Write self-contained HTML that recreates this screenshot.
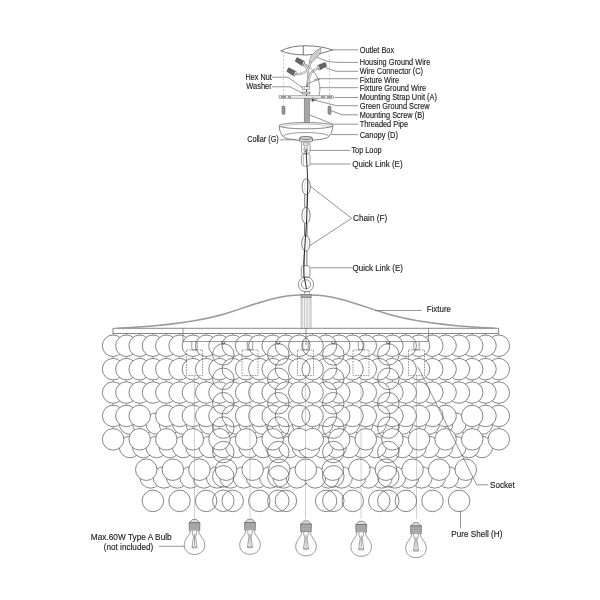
<!DOCTYPE html>
<html><head><meta charset="utf-8"><style>
html,body{margin:0;padding:0;background:#fff;width:600px;height:600px;overflow:hidden}
svg{display:block}
text{font-family:"Liberation Sans",sans-serif;fill:#1a1a1a;stroke:#1a1a1a;stroke-width:0.18px}
svg{will-change:transform}
</style></head><body>
<svg width="600" height="600" viewBox="0 0 600 600">
<g id="chandelier">
<circle cx="130.00" cy="447.00" r="10.75" fill="#fff" stroke="#5e5e5e" stroke-width="0.75" />
<circle cx="482.00" cy="447.00" r="10.75" fill="#fff" stroke="#5e5e5e" stroke-width="0.75" />
<circle cx="130.00" cy="423.60" r="10.75" fill="#fff" stroke="#5e5e5e" stroke-width="0.75" />
<circle cx="482.00" cy="423.60" r="10.75" fill="#fff" stroke="#5e5e5e" stroke-width="0.75" />
<circle cx="143.30" cy="447.00" r="10.75" fill="#fff" stroke="#5e5e5e" stroke-width="0.75" />
<circle cx="468.70" cy="447.00" r="10.75" fill="#fff" stroke="#5e5e5e" stroke-width="0.75" />
<circle cx="143.30" cy="423.60" r="10.75" fill="#fff" stroke="#5e5e5e" stroke-width="0.75" />
<circle cx="468.70" cy="423.60" r="10.75" fill="#fff" stroke="#5e5e5e" stroke-width="0.75" />
<circle cx="150.60" cy="477.40" r="10.75" fill="#fff" stroke="#5e5e5e" stroke-width="0.75" />
<circle cx="461.40" cy="477.40" r="10.75" fill="#fff" stroke="#5e5e5e" stroke-width="0.75" />
<circle cx="156.60" cy="447.00" r="10.75" fill="#fff" stroke="#5e5e5e" stroke-width="0.75" />
<circle cx="455.40" cy="447.00" r="10.75" fill="#fff" stroke="#5e5e5e" stroke-width="0.75" />
<circle cx="156.60" cy="423.60" r="10.75" fill="#fff" stroke="#5e5e5e" stroke-width="0.75" />
<circle cx="455.40" cy="423.60" r="10.75" fill="#fff" stroke="#5e5e5e" stroke-width="0.75" />
<circle cx="448.10" cy="477.40" r="10.75" fill="#fff" stroke="#5e5e5e" stroke-width="0.75" />
<circle cx="163.90" cy="477.40" r="10.75" fill="#fff" stroke="#5e5e5e" stroke-width="0.75" />
<circle cx="169.90" cy="447.00" r="10.75" fill="#fff" stroke="#5e5e5e" stroke-width="0.75" />
<circle cx="442.10" cy="447.00" r="10.75" fill="#fff" stroke="#5e5e5e" stroke-width="0.75" />
<circle cx="169.90" cy="423.60" r="10.75" fill="#fff" stroke="#5e5e5e" stroke-width="0.75" />
<circle cx="442.10" cy="423.60" r="10.75" fill="#fff" stroke="#5e5e5e" stroke-width="0.75" />
<circle cx="177.20" cy="477.40" r="10.75" fill="#fff" stroke="#5e5e5e" stroke-width="0.75" />
<circle cx="434.80" cy="477.40" r="10.75" fill="#fff" stroke="#5e5e5e" stroke-width="0.75" />
<circle cx="183.20" cy="447.00" r="10.75" fill="#fff" stroke="#5e5e5e" stroke-width="0.75" />
<circle cx="428.80" cy="447.00" r="10.75" fill="#fff" stroke="#5e5e5e" stroke-width="0.75" />
<circle cx="183.20" cy="423.60" r="10.75" fill="#fff" stroke="#5e5e5e" stroke-width="0.75" />
<circle cx="428.80" cy="423.60" r="10.75" fill="#fff" stroke="#5e5e5e" stroke-width="0.75" />
<circle cx="421.50" cy="477.40" r="10.75" fill="#fff" stroke="#5e5e5e" stroke-width="0.75" />
<circle cx="190.50" cy="477.40" r="10.75" fill="#fff" stroke="#5e5e5e" stroke-width="0.75" />
<circle cx="196.50" cy="447.00" r="10.75" fill="#fff" stroke="#5e5e5e" stroke-width="0.75" />
<circle cx="415.50" cy="447.00" r="10.75" fill="#fff" stroke="#5e5e5e" stroke-width="0.75" />
<circle cx="196.50" cy="423.60" r="10.75" fill="#fff" stroke="#5e5e5e" stroke-width="0.75" />
<circle cx="415.50" cy="423.60" r="10.75" fill="#fff" stroke="#5e5e5e" stroke-width="0.75" />
<circle cx="203.80" cy="477.40" r="10.75" fill="#fff" stroke="#5e5e5e" stroke-width="0.75" />
<circle cx="408.20" cy="477.40" r="10.75" fill="#fff" stroke="#5e5e5e" stroke-width="0.75" />
<circle cx="209.80" cy="447.00" r="10.75" fill="#fff" stroke="#5e5e5e" stroke-width="0.75" />
<circle cx="402.20" cy="447.00" r="10.75" fill="#fff" stroke="#5e5e5e" stroke-width="0.75" />
<circle cx="209.80" cy="423.60" r="10.75" fill="#fff" stroke="#5e5e5e" stroke-width="0.75" />
<circle cx="402.20" cy="423.60" r="10.75" fill="#fff" stroke="#5e5e5e" stroke-width="0.75" />
<circle cx="394.90" cy="477.40" r="10.75" fill="#fff" stroke="#5e5e5e" stroke-width="0.75" />
<circle cx="217.10" cy="477.40" r="10.75" fill="#fff" stroke="#5e5e5e" stroke-width="0.75" />
<circle cx="223.10" cy="447.00" r="10.75" fill="#fff" stroke="#5e5e5e" stroke-width="0.75" />
<circle cx="388.90" cy="447.00" r="10.75" fill="#fff" stroke="#5e5e5e" stroke-width="0.75" />
<circle cx="223.10" cy="423.60" r="10.75" fill="#fff" stroke="#5e5e5e" stroke-width="0.75" />
<circle cx="388.90" cy="423.60" r="10.75" fill="#fff" stroke="#5e5e5e" stroke-width="0.75" />
<circle cx="230.40" cy="477.40" r="10.75" fill="#fff" stroke="#5e5e5e" stroke-width="0.75" />
<circle cx="381.60" cy="477.40" r="10.75" fill="#fff" stroke="#5e5e5e" stroke-width="0.75" />
<circle cx="236.40" cy="447.00" r="10.75" fill="#fff" stroke="#5e5e5e" stroke-width="0.75" />
<circle cx="375.60" cy="447.00" r="10.75" fill="#fff" stroke="#5e5e5e" stroke-width="0.75" />
<circle cx="236.40" cy="423.60" r="10.75" fill="#fff" stroke="#5e5e5e" stroke-width="0.75" />
<circle cx="375.60" cy="423.60" r="10.75" fill="#fff" stroke="#5e5e5e" stroke-width="0.75" />
<circle cx="368.30" cy="477.40" r="10.75" fill="#fff" stroke="#5e5e5e" stroke-width="0.75" />
<circle cx="243.70" cy="477.40" r="10.75" fill="#fff" stroke="#5e5e5e" stroke-width="0.75" />
<circle cx="249.70" cy="447.00" r="10.75" fill="#fff" stroke="#5e5e5e" stroke-width="0.75" />
<circle cx="362.30" cy="447.00" r="10.75" fill="#fff" stroke="#5e5e5e" stroke-width="0.75" />
<circle cx="249.70" cy="423.60" r="10.75" fill="#fff" stroke="#5e5e5e" stroke-width="0.75" />
<circle cx="362.30" cy="423.60" r="10.75" fill="#fff" stroke="#5e5e5e" stroke-width="0.75" />
<circle cx="257.00" cy="477.40" r="10.75" fill="#fff" stroke="#5e5e5e" stroke-width="0.75" />
<circle cx="355.00" cy="477.40" r="10.75" fill="#fff" stroke="#5e5e5e" stroke-width="0.75" />
<circle cx="263.00" cy="447.00" r="10.75" fill="#fff" stroke="#5e5e5e" stroke-width="0.75" />
<circle cx="349.00" cy="447.00" r="10.75" fill="#fff" stroke="#5e5e5e" stroke-width="0.75" />
<circle cx="263.00" cy="423.60" r="10.75" fill="#fff" stroke="#5e5e5e" stroke-width="0.75" />
<circle cx="349.00" cy="423.60" r="10.75" fill="#fff" stroke="#5e5e5e" stroke-width="0.75" />
<circle cx="270.30" cy="477.40" r="10.75" fill="#fff" stroke="#5e5e5e" stroke-width="0.75" />
<circle cx="341.70" cy="477.40" r="10.75" fill="#fff" stroke="#5e5e5e" stroke-width="0.75" />
<circle cx="276.30" cy="447.00" r="10.75" fill="#fff" stroke="#5e5e5e" stroke-width="0.75" />
<circle cx="335.70" cy="447.00" r="10.75" fill="#fff" stroke="#5e5e5e" stroke-width="0.75" />
<circle cx="276.30" cy="423.60" r="10.75" fill="#fff" stroke="#5e5e5e" stroke-width="0.75" />
<circle cx="335.70" cy="423.60" r="10.75" fill="#fff" stroke="#5e5e5e" stroke-width="0.75" />
<circle cx="283.60" cy="477.40" r="10.75" fill="#fff" stroke="#5e5e5e" stroke-width="0.75" />
<circle cx="328.40" cy="477.40" r="10.75" fill="#fff" stroke="#5e5e5e" stroke-width="0.75" />
<circle cx="289.60" cy="447.00" r="10.75" fill="#fff" stroke="#5e5e5e" stroke-width="0.75" />
<circle cx="322.40" cy="447.00" r="10.75" fill="#fff" stroke="#5e5e5e" stroke-width="0.75" />
<circle cx="289.60" cy="423.60" r="10.75" fill="#fff" stroke="#5e5e5e" stroke-width="0.75" />
<circle cx="322.40" cy="423.60" r="10.75" fill="#fff" stroke="#5e5e5e" stroke-width="0.75" />
<circle cx="296.90" cy="477.40" r="10.75" fill="#fff" stroke="#5e5e5e" stroke-width="0.75" />
<circle cx="315.10" cy="477.40" r="10.75" fill="#fff" stroke="#5e5e5e" stroke-width="0.75" />
<circle cx="302.90" cy="447.00" r="10.75" fill="#fff" stroke="#5e5e5e" stroke-width="0.75" />
<circle cx="309.10" cy="447.00" r="10.75" fill="#fff" stroke="#5e5e5e" stroke-width="0.75" />
<circle cx="302.90" cy="423.60" r="10.75" fill="#fff" stroke="#5e5e5e" stroke-width="0.75" />
<circle cx="309.10" cy="423.60" r="10.75" fill="#fff" stroke="#5e5e5e" stroke-width="0.75" />
<circle cx="459.10" cy="500.90" r="10.75" fill="#fff" stroke="#5e5e5e" stroke-width="0.75" />
<circle cx="152.90" cy="500.90" r="10.75" fill="#fff" stroke="#5e5e5e" stroke-width="0.75" />
<circle cx="179.50" cy="500.90" r="10.75" fill="#fff" stroke="#5e5e5e" stroke-width="0.75" />
<circle cx="432.50" cy="500.90" r="10.75" fill="#fff" stroke="#5e5e5e" stroke-width="0.75" />
<circle cx="206.10" cy="500.90" r="10.75" fill="#fff" stroke="#5e5e5e" stroke-width="0.75" />
<circle cx="405.90" cy="500.90" r="10.75" fill="#fff" stroke="#5e5e5e" stroke-width="0.75" />
<circle cx="232.70" cy="500.90" r="10.75" fill="#fff" stroke="#5e5e5e" stroke-width="0.75" />
<circle cx="379.30" cy="500.90" r="10.75" fill="#fff" stroke="#5e5e5e" stroke-width="0.75" />
<circle cx="259.30" cy="500.90" r="10.75" fill="#fff" stroke="#5e5e5e" stroke-width="0.75" />
<circle cx="352.70" cy="500.90" r="10.75" fill="#fff" stroke="#5e5e5e" stroke-width="0.75" />
<circle cx="285.90" cy="500.90" r="10.75" fill="#fff" stroke="#5e5e5e" stroke-width="0.75" />
<circle cx="326.10" cy="500.90" r="10.75" fill="#fff" stroke="#5e5e5e" stroke-width="0.75" />
<circle cx="146.25" cy="469.70" r="10.75" fill="#fff" stroke="#5e5e5e" stroke-width="0.75" />
<circle cx="465.75" cy="469.70" r="10.75" fill="#fff" stroke="#5e5e5e" stroke-width="0.75" />
<circle cx="172.85" cy="469.70" r="10.75" fill="#fff" stroke="#5e5e5e" stroke-width="0.75" />
<circle cx="439.15" cy="469.70" r="10.75" fill="#fff" stroke="#5e5e5e" stroke-width="0.75" />
<circle cx="199.45" cy="469.70" r="10.75" fill="#fff" stroke="#5e5e5e" stroke-width="0.75" />
<circle cx="412.55" cy="469.70" r="10.75" fill="#fff" stroke="#5e5e5e" stroke-width="0.75" />
<circle cx="385.95" cy="469.70" r="10.75" fill="#fff" stroke="#5e5e5e" stroke-width="0.75" />
<circle cx="226.05" cy="469.70" r="10.75" fill="#fff" stroke="#5e5e5e" stroke-width="0.75" />
<circle cx="252.65" cy="469.70" r="10.75" fill="#fff" stroke="#5e5e5e" stroke-width="0.75" />
<circle cx="359.35" cy="469.70" r="10.75" fill="#fff" stroke="#5e5e5e" stroke-width="0.75" />
<circle cx="279.25" cy="469.70" r="10.75" fill="#fff" stroke="#5e5e5e" stroke-width="0.75" />
<circle cx="332.75" cy="469.70" r="10.75" fill="#fff" stroke="#5e5e5e" stroke-width="0.75" />
<circle cx="305.85" cy="469.70" r="10.75" fill="#fff" stroke="#5e5e5e" stroke-width="0.75" />
<circle cx="113.10" cy="345.75" r="10.75" fill="#fff" stroke="#5e5e5e" stroke-width="0.75" />
<circle cx="113.10" cy="369.15" r="10.75" fill="#fff" stroke="#5e5e5e" stroke-width="0.75" />
<circle cx="113.10" cy="392.55" r="10.75" fill="#fff" stroke="#5e5e5e" stroke-width="0.75" />
<circle cx="113.10" cy="415.95" r="10.75" fill="#fff" stroke="#5e5e5e" stroke-width="0.75" />
<circle cx="113.10" cy="439.35" r="10.75" fill="#fff" stroke="#5e5e5e" stroke-width="0.75" />
<circle cx="498.80" cy="345.75" r="10.75" fill="#fff" stroke="#5e5e5e" stroke-width="0.75" />
<circle cx="498.80" cy="369.15" r="10.75" fill="#fff" stroke="#5e5e5e" stroke-width="0.75" />
<circle cx="498.80" cy="392.55" r="10.75" fill="#fff" stroke="#5e5e5e" stroke-width="0.75" />
<circle cx="498.80" cy="415.95" r="10.75" fill="#fff" stroke="#5e5e5e" stroke-width="0.75" />
<circle cx="498.80" cy="439.35" r="10.75" fill="#fff" stroke="#5e5e5e" stroke-width="0.75" />
<circle cx="126.40" cy="345.75" r="10.75" fill="#fff" stroke="#5e5e5e" stroke-width="0.75" />
<circle cx="126.40" cy="369.15" r="10.75" fill="#fff" stroke="#5e5e5e" stroke-width="0.75" />
<circle cx="126.40" cy="392.55" r="10.75" fill="#fff" stroke="#5e5e5e" stroke-width="0.75" />
<circle cx="126.40" cy="415.95" r="10.75" fill="#fff" stroke="#5e5e5e" stroke-width="0.75" />
<circle cx="485.50" cy="345.75" r="10.75" fill="#fff" stroke="#5e5e5e" stroke-width="0.75" />
<circle cx="485.50" cy="369.15" r="10.75" fill="#fff" stroke="#5e5e5e" stroke-width="0.75" />
<circle cx="485.50" cy="392.55" r="10.75" fill="#fff" stroke="#5e5e5e" stroke-width="0.75" />
<circle cx="485.50" cy="415.95" r="10.75" fill="#fff" stroke="#5e5e5e" stroke-width="0.75" />
<circle cx="139.70" cy="345.75" r="10.75" fill="#fff" stroke="#5e5e5e" stroke-width="0.75" />
<circle cx="139.70" cy="369.15" r="10.75" fill="#fff" stroke="#5e5e5e" stroke-width="0.75" />
<circle cx="139.70" cy="392.55" r="10.75" fill="#fff" stroke="#5e5e5e" stroke-width="0.75" />
<circle cx="139.70" cy="415.95" r="10.75" fill="#fff" stroke="#5e5e5e" stroke-width="0.75" />
<circle cx="139.70" cy="439.35" r="10.75" fill="#fff" stroke="#5e5e5e" stroke-width="0.75" />
<circle cx="472.20" cy="345.75" r="10.75" fill="#fff" stroke="#5e5e5e" stroke-width="0.75" />
<circle cx="472.20" cy="369.15" r="10.75" fill="#fff" stroke="#5e5e5e" stroke-width="0.75" />
<circle cx="472.20" cy="392.55" r="10.75" fill="#fff" stroke="#5e5e5e" stroke-width="0.75" />
<circle cx="472.20" cy="415.95" r="10.75" fill="#fff" stroke="#5e5e5e" stroke-width="0.75" />
<circle cx="472.20" cy="439.35" r="10.75" fill="#fff" stroke="#5e5e5e" stroke-width="0.75" />
<circle cx="153.00" cy="345.75" r="10.75" fill="#fff" stroke="#5e5e5e" stroke-width="0.75" />
<circle cx="153.00" cy="369.15" r="10.75" fill="#fff" stroke="#5e5e5e" stroke-width="0.75" />
<circle cx="153.00" cy="392.55" r="10.75" fill="#fff" stroke="#5e5e5e" stroke-width="0.75" />
<circle cx="458.90" cy="345.75" r="10.75" fill="#fff" stroke="#5e5e5e" stroke-width="0.75" />
<circle cx="458.90" cy="369.15" r="10.75" fill="#fff" stroke="#5e5e5e" stroke-width="0.75" />
<circle cx="458.90" cy="392.55" r="10.75" fill="#fff" stroke="#5e5e5e" stroke-width="0.75" />
<circle cx="166.30" cy="345.75" r="10.75" fill="#fff" stroke="#5e5e5e" stroke-width="0.75" />
<circle cx="166.30" cy="369.15" r="10.75" fill="#fff" stroke="#5e5e5e" stroke-width="0.75" />
<circle cx="166.30" cy="392.55" r="10.75" fill="#fff" stroke="#5e5e5e" stroke-width="0.75" />
<circle cx="166.30" cy="415.95" r="10.75" fill="#fff" stroke="#5e5e5e" stroke-width="0.75" />
<circle cx="166.30" cy="439.35" r="10.75" fill="#fff" stroke="#5e5e5e" stroke-width="0.75" />
<circle cx="445.60" cy="345.75" r="10.75" fill="#fff" stroke="#5e5e5e" stroke-width="0.75" />
<circle cx="445.60" cy="369.15" r="10.75" fill="#fff" stroke="#5e5e5e" stroke-width="0.75" />
<circle cx="445.60" cy="392.55" r="10.75" fill="#fff" stroke="#5e5e5e" stroke-width="0.75" />
<circle cx="445.60" cy="415.95" r="10.75" fill="#fff" stroke="#5e5e5e" stroke-width="0.75" />
<circle cx="445.60" cy="439.35" r="10.75" fill="#fff" stroke="#5e5e5e" stroke-width="0.75" />
<circle cx="179.60" cy="345.75" r="10.75" fill="#fff" stroke="#5e5e5e" stroke-width="0.75" />
<circle cx="179.60" cy="369.15" r="10.75" fill="#fff" stroke="#5e5e5e" stroke-width="0.75" />
<circle cx="179.60" cy="392.55" r="10.75" fill="#fff" stroke="#5e5e5e" stroke-width="0.75" />
<circle cx="179.60" cy="415.95" r="10.75" fill="#fff" stroke="#5e5e5e" stroke-width="0.75" />
<circle cx="432.30" cy="345.75" r="10.75" fill="#fff" stroke="#5e5e5e" stroke-width="0.75" />
<circle cx="432.30" cy="369.15" r="10.75" fill="#fff" stroke="#5e5e5e" stroke-width="0.75" />
<circle cx="432.30" cy="392.55" r="10.75" fill="#fff" stroke="#5e5e5e" stroke-width="0.75" />
<circle cx="432.30" cy="415.95" r="10.75" fill="#fff" stroke="#5e5e5e" stroke-width="0.75" />
<circle cx="192.90" cy="345.75" r="10.75" fill="#fff" stroke="#5e5e5e" stroke-width="0.75" />
<circle cx="192.90" cy="369.15" r="10.75" fill="#fff" stroke="#5e5e5e" stroke-width="0.75" />
<circle cx="192.90" cy="392.55" r="10.75" fill="#fff" stroke="#5e5e5e" stroke-width="0.75" />
<circle cx="192.90" cy="415.95" r="10.75" fill="#fff" stroke="#5e5e5e" stroke-width="0.75" />
<circle cx="192.90" cy="439.35" r="10.75" fill="#fff" stroke="#5e5e5e" stroke-width="0.75" />
<circle cx="419.00" cy="345.75" r="10.75" fill="#fff" stroke="#5e5e5e" stroke-width="0.75" />
<circle cx="419.00" cy="369.15" r="10.75" fill="#fff" stroke="#5e5e5e" stroke-width="0.75" />
<circle cx="419.00" cy="392.55" r="10.75" fill="#fff" stroke="#5e5e5e" stroke-width="0.75" />
<circle cx="419.00" cy="415.95" r="10.75" fill="#fff" stroke="#5e5e5e" stroke-width="0.75" />
<circle cx="419.00" cy="439.35" r="10.75" fill="#fff" stroke="#5e5e5e" stroke-width="0.75" />
<circle cx="206.20" cy="345.75" r="10.75" fill="#fff" stroke="#5e5e5e" stroke-width="0.75" />
<circle cx="206.20" cy="369.15" r="10.75" fill="#fff" stroke="#5e5e5e" stroke-width="0.75" />
<circle cx="206.20" cy="392.55" r="10.75" fill="#fff" stroke="#5e5e5e" stroke-width="0.75" />
<circle cx="206.20" cy="415.95" r="10.75" fill="#fff" stroke="#5e5e5e" stroke-width="0.75" />
<circle cx="405.70" cy="345.75" r="10.75" fill="#fff" stroke="#5e5e5e" stroke-width="0.75" />
<circle cx="405.70" cy="369.15" r="10.75" fill="#fff" stroke="#5e5e5e" stroke-width="0.75" />
<circle cx="405.70" cy="392.55" r="10.75" fill="#fff" stroke="#5e5e5e" stroke-width="0.75" />
<circle cx="405.70" cy="415.95" r="10.75" fill="#fff" stroke="#5e5e5e" stroke-width="0.75" />
<circle cx="219.50" cy="345.75" r="10.75" fill="#fff" stroke="#5e5e5e" stroke-width="0.75" />
<circle cx="219.50" cy="369.15" r="10.75" fill="#fff" stroke="#5e5e5e" stroke-width="0.75" />
<circle cx="219.50" cy="392.55" r="10.75" fill="#fff" stroke="#5e5e5e" stroke-width="0.75" />
<circle cx="219.50" cy="415.95" r="10.75" fill="#fff" stroke="#5e5e5e" stroke-width="0.75" />
<circle cx="219.50" cy="439.35" r="10.75" fill="#fff" stroke="#5e5e5e" stroke-width="0.75" />
<circle cx="392.40" cy="345.75" r="10.75" fill="#fff" stroke="#5e5e5e" stroke-width="0.75" />
<circle cx="392.40" cy="369.15" r="10.75" fill="#fff" stroke="#5e5e5e" stroke-width="0.75" />
<circle cx="392.40" cy="392.55" r="10.75" fill="#fff" stroke="#5e5e5e" stroke-width="0.75" />
<circle cx="392.40" cy="415.95" r="10.75" fill="#fff" stroke="#5e5e5e" stroke-width="0.75" />
<circle cx="392.40" cy="439.35" r="10.75" fill="#fff" stroke="#5e5e5e" stroke-width="0.75" />
<circle cx="232.80" cy="345.75" r="10.75" fill="#fff" stroke="#5e5e5e" stroke-width="0.75" />
<circle cx="232.80" cy="369.15" r="10.75" fill="#fff" stroke="#5e5e5e" stroke-width="0.75" />
<circle cx="232.80" cy="392.55" r="10.75" fill="#fff" stroke="#5e5e5e" stroke-width="0.75" />
<circle cx="232.80" cy="415.95" r="10.75" fill="#fff" stroke="#5e5e5e" stroke-width="0.75" />
<circle cx="379.10" cy="345.75" r="10.75" fill="#fff" stroke="#5e5e5e" stroke-width="0.75" />
<circle cx="379.10" cy="369.15" r="10.75" fill="#fff" stroke="#5e5e5e" stroke-width="0.75" />
<circle cx="379.10" cy="392.55" r="10.75" fill="#fff" stroke="#5e5e5e" stroke-width="0.75" />
<circle cx="379.10" cy="415.95" r="10.75" fill="#fff" stroke="#5e5e5e" stroke-width="0.75" />
<circle cx="246.10" cy="345.75" r="10.75" fill="#fff" stroke="#5e5e5e" stroke-width="0.75" />
<circle cx="246.10" cy="369.15" r="10.75" fill="#fff" stroke="#5e5e5e" stroke-width="0.75" />
<circle cx="246.10" cy="392.55" r="10.75" fill="#fff" stroke="#5e5e5e" stroke-width="0.75" />
<circle cx="246.10" cy="415.95" r="10.75" fill="#fff" stroke="#5e5e5e" stroke-width="0.75" />
<circle cx="246.10" cy="439.35" r="10.75" fill="#fff" stroke="#5e5e5e" stroke-width="0.75" />
<circle cx="365.80" cy="345.75" r="10.75" fill="#fff" stroke="#5e5e5e" stroke-width="0.75" />
<circle cx="365.80" cy="369.15" r="10.75" fill="#fff" stroke="#5e5e5e" stroke-width="0.75" />
<circle cx="365.80" cy="392.55" r="10.75" fill="#fff" stroke="#5e5e5e" stroke-width="0.75" />
<circle cx="365.80" cy="415.95" r="10.75" fill="#fff" stroke="#5e5e5e" stroke-width="0.75" />
<circle cx="365.80" cy="439.35" r="10.75" fill="#fff" stroke="#5e5e5e" stroke-width="0.75" />
<circle cx="259.40" cy="345.75" r="10.75" fill="#fff" stroke="#5e5e5e" stroke-width="0.75" />
<circle cx="259.40" cy="369.15" r="10.75" fill="#fff" stroke="#5e5e5e" stroke-width="0.75" />
<circle cx="259.40" cy="392.55" r="10.75" fill="#fff" stroke="#5e5e5e" stroke-width="0.75" />
<circle cx="259.40" cy="415.95" r="10.75" fill="#fff" stroke="#5e5e5e" stroke-width="0.75" />
<circle cx="352.50" cy="345.75" r="10.75" fill="#fff" stroke="#5e5e5e" stroke-width="0.75" />
<circle cx="352.50" cy="369.15" r="10.75" fill="#fff" stroke="#5e5e5e" stroke-width="0.75" />
<circle cx="352.50" cy="392.55" r="10.75" fill="#fff" stroke="#5e5e5e" stroke-width="0.75" />
<circle cx="352.50" cy="415.95" r="10.75" fill="#fff" stroke="#5e5e5e" stroke-width="0.75" />
<circle cx="272.70" cy="345.75" r="10.75" fill="#fff" stroke="#5e5e5e" stroke-width="0.75" />
<circle cx="272.70" cy="369.15" r="10.75" fill="#fff" stroke="#5e5e5e" stroke-width="0.75" />
<circle cx="272.70" cy="392.55" r="10.75" fill="#fff" stroke="#5e5e5e" stroke-width="0.75" />
<circle cx="272.70" cy="415.95" r="10.75" fill="#fff" stroke="#5e5e5e" stroke-width="0.75" />
<circle cx="272.70" cy="439.35" r="10.75" fill="#fff" stroke="#5e5e5e" stroke-width="0.75" />
<circle cx="339.20" cy="345.75" r="10.75" fill="#fff" stroke="#5e5e5e" stroke-width="0.75" />
<circle cx="339.20" cy="369.15" r="10.75" fill="#fff" stroke="#5e5e5e" stroke-width="0.75" />
<circle cx="339.20" cy="392.55" r="10.75" fill="#fff" stroke="#5e5e5e" stroke-width="0.75" />
<circle cx="339.20" cy="415.95" r="10.75" fill="#fff" stroke="#5e5e5e" stroke-width="0.75" />
<circle cx="339.20" cy="439.35" r="10.75" fill="#fff" stroke="#5e5e5e" stroke-width="0.75" />
<circle cx="286.00" cy="345.75" r="10.75" fill="#fff" stroke="#5e5e5e" stroke-width="0.75" />
<circle cx="286.00" cy="369.15" r="10.75" fill="#fff" stroke="#5e5e5e" stroke-width="0.75" />
<circle cx="286.00" cy="392.55" r="10.75" fill="#fff" stroke="#5e5e5e" stroke-width="0.75" />
<circle cx="286.00" cy="415.95" r="10.75" fill="#fff" stroke="#5e5e5e" stroke-width="0.75" />
<circle cx="325.90" cy="345.75" r="10.75" fill="#fff" stroke="#5e5e5e" stroke-width="0.75" />
<circle cx="325.90" cy="369.15" r="10.75" fill="#fff" stroke="#5e5e5e" stroke-width="0.75" />
<circle cx="325.90" cy="392.55" r="10.75" fill="#fff" stroke="#5e5e5e" stroke-width="0.75" />
<circle cx="325.90" cy="415.95" r="10.75" fill="#fff" stroke="#5e5e5e" stroke-width="0.75" />
<circle cx="299.30" cy="345.75" r="10.75" fill="#fff" stroke="none" stroke-width="0.75" />
<circle cx="299.30" cy="369.15" r="10.75" fill="#fff" stroke="none" stroke-width="0.75" />
<circle cx="299.30" cy="392.55" r="10.75" fill="#fff" stroke="none" stroke-width="0.75" />
<circle cx="299.30" cy="415.95" r="10.75" fill="#fff" stroke="none" stroke-width="0.75" />
<circle cx="299.30" cy="439.35" r="10.75" fill="#fff" stroke="#5e5e5e" stroke-width="0.75" />
<circle cx="312.60" cy="345.75" r="10.75" fill="#fff" stroke="none" stroke-width="0.75" />
<circle cx="312.60" cy="369.15" r="10.75" fill="#fff" stroke="none" stroke-width="0.75" />
<circle cx="312.60" cy="392.55" r="10.75" fill="#fff" stroke="none" stroke-width="0.75" />
<circle cx="312.60" cy="415.95" r="10.75" fill="#fff" stroke="none" stroke-width="0.75" />
<circle cx="312.60" cy="439.35" r="10.75" fill="#fff" stroke="#5e5e5e" stroke-width="0.75" />
<circle cx="299.30" cy="345.75" r="10.75" fill="none" stroke="#5e5e5e" stroke-width="0.75" />
<circle cx="299.30" cy="369.15" r="10.75" fill="none" stroke="#5e5e5e" stroke-width="0.75" />
<circle cx="299.30" cy="392.55" r="10.75" fill="none" stroke="#5e5e5e" stroke-width="0.75" />
<circle cx="299.30" cy="415.95" r="10.75" fill="none" stroke="#5e5e5e" stroke-width="0.75" />
<circle cx="312.60" cy="345.75" r="10.75" fill="none" stroke="#5e5e5e" stroke-width="0.75" />
<circle cx="312.60" cy="369.15" r="10.75" fill="none" stroke="#5e5e5e" stroke-width="0.75" />
<circle cx="312.60" cy="392.55" r="10.75" fill="none" stroke="#5e5e5e" stroke-width="0.75" />
<circle cx="312.60" cy="415.95" r="10.75" fill="none" stroke="#5e5e5e" stroke-width="0.75" />
<circle cx="299.30" cy="439.35" r="10.75" fill="#fff" stroke="#5e5e5e" stroke-width="0.75" />
<circle cx="312.60" cy="439.35" r="10.75" fill="#fff" stroke="#5e5e5e" stroke-width="0.75" />
<circle cx="299.30" cy="439.35" r="10.30" fill="#fff" stroke="none" stroke-width="0.75" />
<circle cx="312.60" cy="439.35" r="10.30" fill="#fff" stroke="none" stroke-width="0.75" />

<g fill="none" stroke="#555" stroke-width="0.7">
 <path d="M113 333.5 V328.3 H498.6 V333.5 Z"/>
 <path d="M183 328.3 V341.5 H428.6 V328.3" stroke="#555" stroke-width="0.6"/>
 <path d="M117 328.3 C 160 326.3, 200 322.3, 230 312.3 C 260 302.3, 278 295.2, 301 294.9 L311 294.9 C 334 295.2, 352 302.3, 382 312.3 C 412 322.3, 452 326.3, 495 328.3" stroke="#9a9a9a" stroke-width="1.5"/>
 <path d="M113.10 333.5 V335 M113.10 356.50 V358.40 M113.10 379.90 V381.80 M113.10 403.30 V405.20 M113.10 426.70 V428.60 M126.40 333.5 V335 M126.40 356.50 V358.40 M126.40 379.90 V381.80 M126.40 403.30 V405.20 M139.70 333.5 V335 M139.70 356.50 V358.40 M139.70 379.90 V381.80 M139.70 403.30 V405.20 M139.70 426.70 V428.60 M153.00 333.5 V335 M153.00 356.50 V358.40 M153.00 379.90 V381.80 M166.30 333.5 V335 M166.30 356.50 V358.40 M166.30 379.90 V381.80 M166.30 403.30 V405.20 M166.30 426.70 V428.60 M179.60 333.5 V335 M179.60 356.50 V358.40 M179.60 379.90 V381.80 M179.60 403.30 V405.20 M192.90 333.5 V335 M192.90 356.50 V358.40 M192.90 379.90 V381.80 M192.90 403.30 V405.20 M192.90 426.70 V428.60 M206.20 333.5 V335 M206.20 356.50 V358.40 M206.20 379.90 V381.80 M206.20 403.30 V405.20 M219.50 333.5 V335 M219.50 356.50 V358.40 M219.50 379.90 V381.80 M219.50 403.30 V405.20 M219.50 426.70 V428.60 M232.80 333.5 V335 M232.80 356.50 V358.40 M232.80 379.90 V381.80 M232.80 403.30 V405.20 M246.10 333.5 V335 M246.10 356.50 V358.40 M246.10 379.90 V381.80 M246.10 403.30 V405.20 M246.10 426.70 V428.60 M259.40 333.5 V335 M259.40 356.50 V358.40 M259.40 379.90 V381.80 M259.40 403.30 V405.20 M272.70 333.5 V335 M272.70 356.50 V358.40 M272.70 379.90 V381.80 M272.70 403.30 V405.20 M272.70 426.70 V428.60 M286.00 333.5 V335 M286.00 356.50 V358.40 M286.00 379.90 V381.80 M286.00 403.30 V405.20 M299.30 333.5 V335 M299.30 356.50 V358.40 M299.30 379.90 V381.80 M299.30 403.30 V405.20 M299.30 426.70 V428.60 M312.60 333.5 V335 M312.60 356.50 V358.40 M312.60 379.90 V381.80 M312.60 403.30 V405.20 M312.60 426.70 V428.60 M325.90 333.5 V335 M325.90 356.50 V358.40 M325.90 379.90 V381.80 M325.90 403.30 V405.20 M339.20 333.5 V335 M339.20 356.50 V358.40 M339.20 379.90 V381.80 M339.20 403.30 V405.20 M339.20 426.70 V428.60 M352.50 333.5 V335 M352.50 356.50 V358.40 M352.50 379.90 V381.80 M352.50 403.30 V405.20 M365.80 333.5 V335 M365.80 356.50 V358.40 M365.80 379.90 V381.80 M365.80 403.30 V405.20 M365.80 426.70 V428.60 M379.10 333.5 V335 M379.10 356.50 V358.40 M379.10 379.90 V381.80 M379.10 403.30 V405.20 M392.40 333.5 V335 M392.40 356.50 V358.40 M392.40 379.90 V381.80 M392.40 403.30 V405.20 M392.40 426.70 V428.60 M405.70 333.5 V335 M405.70 356.50 V358.40 M405.70 379.90 V381.80 M405.70 403.30 V405.20 M419.00 333.5 V335 M419.00 356.50 V358.40 M419.00 379.90 V381.80 M419.00 403.30 V405.20 M419.00 426.70 V428.60 M432.30 333.5 V335 M432.30 356.50 V358.40 M432.30 379.90 V381.80 M432.30 403.30 V405.20 M445.60 333.5 V335 M445.60 356.50 V358.40 M445.60 379.90 V381.80 M445.60 403.30 V405.20 M445.60 426.70 V428.60 M458.90 333.5 V335 M458.90 356.50 V358.40 M458.90 379.90 V381.80 M472.20 333.5 V335 M472.20 356.50 V358.40 M472.20 379.90 V381.80 M472.20 403.30 V405.20 M472.20 426.70 V428.60 M485.50 333.5 V335 M485.50 356.50 V358.40 M485.50 379.90 V381.80 M485.50 403.30 V405.20 M498.80 333.5 V335 M498.80 356.50 V358.40 M498.80 379.90 V381.80 M498.80 403.30 V405.20 M498.80 426.70 V428.60" stroke="#666" stroke-width="0.6"/>
</g>
<g fill="#fff" stroke="#444" stroke-width="0.6">

</g>
<g id="stem" stroke="#666" stroke-width="0.5" fill="#fff">
 <rect x="301.1" y="294.25" width="9.9" height="33.9"/>
 <path d="M302.8 294.25 V328 M304.5 294.25 V328 M306.1 294.25 V328 M307.7 294.25 V328 M309.3 294.25 V328" fill="none" stroke="#999"/>
 <rect x="304.6" y="291.5" width="4.7" height="2.75"/>
 <rect x="301.1" y="294.25" width="9.9" height="3.5" fill="#aaa"/>
 <path d="M306 328 V345" stroke="#555" stroke-width="0.6"/>
</g>

<circle cx="223.30" cy="354.40" r="10.75" fill="none" stroke="#5e5e5e" stroke-width="0.75" />
<circle cx="223.30" cy="378.80" r="10.75" fill="none" stroke="#5e5e5e" stroke-width="0.75" />
<circle cx="223.30" cy="403.20" r="10.75" fill="none" stroke="#5e5e5e" stroke-width="0.75" />
<circle cx="223.30" cy="427.60" r="10.75" fill="none" stroke="#5e5e5e" stroke-width="0.75" />
<circle cx="223.30" cy="452.00" r="10.75" fill="none" stroke="#5e5e5e" stroke-width="0.75" />
<circle cx="223.30" cy="476.40" r="10.75" fill="none" stroke="#5e5e5e" stroke-width="0.75" />
<circle cx="223.30" cy="500.80" r="10.75" fill="none" stroke="#5e5e5e" stroke-width="0.75" />
<circle cx="278.30" cy="354.40" r="10.75" fill="none" stroke="#5e5e5e" stroke-width="0.75" />
<circle cx="278.30" cy="378.80" r="10.75" fill="none" stroke="#5e5e5e" stroke-width="0.75" />
<circle cx="278.30" cy="403.20" r="10.75" fill="none" stroke="#5e5e5e" stroke-width="0.75" />
<circle cx="278.30" cy="427.60" r="10.75" fill="none" stroke="#5e5e5e" stroke-width="0.75" />
<circle cx="278.30" cy="452.00" r="10.75" fill="none" stroke="#5e5e5e" stroke-width="0.75" />
<circle cx="278.30" cy="476.40" r="10.75" fill="none" stroke="#5e5e5e" stroke-width="0.75" />
<circle cx="278.30" cy="500.80" r="10.75" fill="none" stroke="#5e5e5e" stroke-width="0.75" />
<circle cx="333.30" cy="354.40" r="10.75" fill="none" stroke="#5e5e5e" stroke-width="0.75" />
<circle cx="333.30" cy="378.80" r="10.75" fill="none" stroke="#5e5e5e" stroke-width="0.75" />
<circle cx="333.30" cy="403.20" r="10.75" fill="none" stroke="#5e5e5e" stroke-width="0.75" />
<circle cx="333.30" cy="427.60" r="10.75" fill="none" stroke="#5e5e5e" stroke-width="0.75" />
<circle cx="333.30" cy="452.00" r="10.75" fill="none" stroke="#5e5e5e" stroke-width="0.75" />
<circle cx="333.30" cy="476.40" r="10.75" fill="none" stroke="#5e5e5e" stroke-width="0.75" />
<circle cx="333.30" cy="500.80" r="10.75" fill="none" stroke="#5e5e5e" stroke-width="0.75" />
<circle cx="388.30" cy="354.40" r="10.75" fill="none" stroke="#5e5e5e" stroke-width="0.75" />
<circle cx="388.30" cy="378.80" r="10.75" fill="none" stroke="#5e5e5e" stroke-width="0.75" />
<circle cx="388.30" cy="403.20" r="10.75" fill="none" stroke="#5e5e5e" stroke-width="0.75" />
<circle cx="388.30" cy="427.60" r="10.75" fill="none" stroke="#5e5e5e" stroke-width="0.75" />
<circle cx="388.30" cy="452.00" r="10.75" fill="none" stroke="#5e5e5e" stroke-width="0.75" />
<circle cx="388.30" cy="476.40" r="10.75" fill="none" stroke="#5e5e5e" stroke-width="0.75" />
<circle cx="388.30" cy="500.80" r="10.75" fill="none" stroke="#5e5e5e" stroke-width="0.75" />
<rect x="186.50" y="350" width="16" height="25.6" fill="none" stroke="#666" stroke-width="0.7" stroke-dasharray="1.6 1.1"/>
<path d="M191.80 341.5 V349.7 H197.20 V341.5" fill="none" stroke="#555" stroke-width="0.6"/>
<path d="M194.50 375.6 V519" stroke="#666" stroke-width="0.6" stroke-dasharray="1 1"/>
<rect x="242.00" y="350" width="16" height="25.6" fill="none" stroke="#666" stroke-width="0.7" stroke-dasharray="1.6 1.1"/>
<path d="M247.30 341.5 V349.7 H252.70 V341.5" fill="none" stroke="#555" stroke-width="0.6"/>
<path d="M250.00 375.6 V519" stroke="#666" stroke-width="0.6" stroke-dasharray="1 1"/>
<rect x="297.50" y="350" width="16" height="25.6" fill="none" stroke="#666" stroke-width="0.7" stroke-dasharray="1.6 1.1"/>
<path d="M302.80 341.5 V349.7 H308.20 V341.5" fill="none" stroke="#555" stroke-width="0.6"/>
<path d="M305.50 375.6 V519" stroke="#666" stroke-width="0.6" stroke-dasharray="1 1"/>
<rect x="353.00" y="350" width="16" height="25.6" fill="none" stroke="#666" stroke-width="0.7" stroke-dasharray="1.6 1.1"/>
<path d="M358.30 341.5 V349.7 H363.70 V341.5" fill="none" stroke="#555" stroke-width="0.6"/>
<path d="M361.00 375.6 V519" stroke="#666" stroke-width="0.6" stroke-dasharray="1 1"/>
<rect x="408.50" y="350" width="16" height="25.6" fill="none" stroke="#666" stroke-width="0.7" stroke-dasharray="1.6 1.1"/>
<path d="M413.80 341.5 V349.7 H419.20 V341.5" fill="none" stroke="#555" stroke-width="0.6"/>
<path d="M416.50 375.6 V519" stroke="#666" stroke-width="0.6" stroke-dasharray="1 1"/>
<g fill="none" stroke="#333" stroke-width="0.75"><path d="M221.80 341.5 V342.6 A1.5 1.5 0 0 0 224.80 342.6 V341.5"/><path d="M276.80 341.5 V342.6 A1.5 1.5 0 0 0 279.80 342.6 V341.5"/><path d="M331.80 341.5 V342.6 A1.5 1.5 0 0 0 334.80 342.6 V341.5"/><path d="M386.80 341.5 V342.6 A1.5 1.5 0 0 0 389.80 342.6 V341.5"/></g>
</g>
<g stroke="#555" stroke-width="0.6">
 <path d="M192.30 519.50 H196.70 L199.70 522.70 H189.30 Z" fill="#ddd"/>
 <path d="M189.00 522.70 H200.00 L199.70 530.50 H189.30 Z" fill="#b0b0b0"/>
 <path d="M189.10 524.50 H199.90 M189.10 526.30 H199.90 M189.20 528.10 H199.80" stroke="#888" stroke-width="0.4"/>
 <path d="M190.30 530.50 C190.30 535.50 184.20 538.50 184.20 545.00 C184.20 551.00 189.00 554.50 194.50 554.50 C200.00 554.50 204.80 551.00 204.80 545.00 C204.80 538.50 198.70 535.50 198.70 530.50" fill="#fff"/>
 <path d="M192.30 530.50 V533.50 L193.50 536.50 L192.00 547.50 M196.70 530.50 V533.50 L195.50 536.50 L197.00 547.50 M192.00 547.50 Q194.50 545.00 197.00 547.50 M192.00 547.50 Q194.50 549.00 197.00 547.50 M194.50 533.50 V545.50" fill="none" stroke="#444" stroke-width="0.5"/>
</g>
<g stroke="#555" stroke-width="0.6">
 <path d="M247.80 519.30 H252.20 L255.20 522.50 H244.80 Z" fill="#ddd"/>
 <path d="M244.50 522.50 H255.50 L255.20 530.30 H244.80 Z" fill="#b0b0b0"/>
 <path d="M244.60 524.30 H255.40 M244.60 526.10 H255.40 M244.70 527.90 H255.30" stroke="#888" stroke-width="0.4"/>
 <path d="M245.80 530.30 C245.80 535.30 239.70 538.30 239.70 544.80 C239.70 550.80 244.50 554.30 250.00 554.30 C255.50 554.30 260.30 550.80 260.30 544.80 C260.30 538.30 254.20 535.30 254.20 530.30" fill="#fff"/>
 <path d="M247.80 530.30 V533.30 L249.00 536.30 L247.50 547.30 M252.20 530.30 V533.30 L251.00 536.30 L252.50 547.30 M247.50 547.30 Q250.00 544.80 252.50 547.30 M247.50 547.30 Q250.00 548.80 252.50 547.30 M250.00 533.30 V545.30" fill="none" stroke="#444" stroke-width="0.5"/>
</g>
<g stroke="#555" stroke-width="0.6">
 <path d="M303.80 520.90 H308.20 L311.20 524.10 H300.80 Z" fill="#ddd"/>
 <path d="M300.50 524.10 H311.50 L311.20 531.90 H300.80 Z" fill="#b0b0b0"/>
 <path d="M300.60 525.90 H311.40 M300.60 527.70 H311.40 M300.70 529.50 H311.30" stroke="#888" stroke-width="0.4"/>
 <path d="M301.80 531.90 C301.80 536.90 295.70 539.90 295.70 546.40 C295.70 552.40 300.50 555.90 306.00 555.90 C311.50 555.90 316.30 552.40 316.30 546.40 C316.30 539.90 310.20 536.90 310.20 531.90" fill="#fff"/>
 <path d="M303.80 531.90 V534.90 L305.00 537.90 L303.50 548.90 M308.20 531.90 V534.90 L307.00 537.90 L308.50 548.90 M303.50 548.90 Q306.00 546.40 308.50 548.90 M303.50 548.90 Q306.00 550.40 308.50 548.90 M306.00 534.90 V546.90" fill="none" stroke="#444" stroke-width="0.5"/>
</g>
<g stroke="#555" stroke-width="0.6">
 <path d="M359.00 521.30 H363.40 L366.40 524.50 H356.00 Z" fill="#ddd"/>
 <path d="M355.70 524.50 H366.70 L366.40 532.30 H356.00 Z" fill="#b0b0b0"/>
 <path d="M355.80 526.30 H366.60 M355.80 528.10 H366.60 M355.90 529.90 H366.50" stroke="#888" stroke-width="0.4"/>
 <path d="M357.00 532.30 C357.00 537.30 350.90 540.30 350.90 546.80 C350.90 552.80 355.70 556.30 361.20 556.30 C366.70 556.30 371.50 552.80 371.50 546.80 C371.50 540.30 365.40 537.30 365.40 532.30" fill="#fff"/>
 <path d="M359.00 532.30 V535.30 L360.20 538.30 L358.70 549.30 M363.40 532.30 V535.30 L362.20 538.30 L363.70 549.30 M358.70 549.30 Q361.20 546.80 363.70 549.30 M358.70 549.30 Q361.20 550.80 363.70 549.30 M361.20 535.30 V547.30" fill="none" stroke="#444" stroke-width="0.5"/>
</g>
<g stroke="#555" stroke-width="0.6">
 <path d="M413.80 522.70 H418.20 L421.20 525.90 H410.80 Z" fill="#ddd"/>
 <path d="M410.50 525.90 H421.50 L421.20 533.70 H410.80 Z" fill="#b0b0b0"/>
 <path d="M410.60 527.70 H421.40 M410.60 529.50 H421.40 M410.70 531.30 H421.30" stroke="#888" stroke-width="0.4"/>
 <path d="M411.80 533.70 C411.80 538.70 405.70 541.70 405.70 548.20 C405.70 554.20 410.50 557.70 416.00 557.70 C421.50 557.70 426.30 554.20 426.30 548.20 C426.30 541.70 420.20 538.70 420.20 533.70" fill="#fff"/>
 <path d="M413.80 533.70 V536.70 L415.00 539.70 L413.50 550.70 M418.20 533.70 V536.70 L417.00 539.70 L418.50 550.70 M413.50 550.70 Q416.00 548.20 418.50 550.70 M413.50 550.70 Q416.00 552.20 418.50 550.70 M416.00 536.70 V548.70" fill="none" stroke="#444" stroke-width="0.5"/>
</g>

<g id="leaders" stroke="#666" stroke-width="0.7" fill="none">
 <path d="M332 49.8 H358"/>
 <path d="M317 57 Q326 62.4 339 62.4 H358"/>
 <path d="M325.5 67.7 L336 71.3 H358"/>
 <path d="M314 80 Q316 78.7 320 78.7 H358"/>
 <path d="M319.5 87.7 H358"/>
 <path d="M334.5 97.5 H358"/>
 <path d="M314 100 L336.7 105.7 H358"/>
 <path d="M330.7 110.5 L342 114.8 H358"/>
 <path d="M309.7 115 L333 124.2 H358"/>
 <path d="M331 134.6 H358"/>
 <path d="M310 150.4 H350"/>
 <path d="M310 164 H350.5"/>
 <path d="M310 186 L351.7 218.3 L310 245.5"/>
 <path d="M310.5 267.8 H352.5"/>
 <path d="M272 77.2 H288 L302 87.5"/>
 <path d="M272 86.8 H290 L302 93"/>
 <path d="M280 139.8 H299.5"/>
 <path d="M476.7 484.8 H488.3 M476.7 484.8 L418 367"/>
 <path d="M460.5 511 V528.3"/>
 <path d="M375 310.5 H421.7"/>
 <path d="M159 546.3 H184.5"/>
</g>
<g id="outlet" stroke="#555" stroke-width="0.8" fill="#fff">
 <path d="M280.8 50.8 Q292 45.5 306 45.8 Q322 46 332.5 50 Q320 55.2 306 55 Q290 54.8 280.8 50.8 Z"/>
 <path d="M303.3 46 V55" fill="none"/>
 <path d="M283.5 55 V106 M329.5 55 V106" stroke="#aaa" stroke-dasharray="2 1.8" fill="none" stroke-width="0.6"/>
</g>
<g id="wires" fill="none" stroke-linecap="round">
 <path d="M321 48 Q321.5 53 316 58.5 Q312 63 309 65 Q308.5 60 312 55 Q316 49.5 321 48 Z" fill="#ddd" stroke="#777" stroke-width="0.6"/>
 <path d="M319.5 50 L311 62 M317.5 51 L312.5 57 M320 52.5 L314 59" stroke="#999" stroke-width="0.5" stroke-dasharray="1 0.8"/>
 <path d="M295.5 74 Q303 74.5 307 70.5 Q310 67 310.5 62" stroke="#888" stroke-width="2.2"/>
 <path d="M295.5 74 Q303 74.5 307 70.5 Q310 67 310.5 62" stroke="#e6e6e6" stroke-width="1.1"/>
 <path d="M303.8 64.5 Q308.5 68 308.3 76 Q308 82 306.8 87" stroke="#888" stroke-width="2.2"/>
 <path d="M303.8 64.5 Q308.5 68 308.3 76 Q308 82 306.8 87" stroke="#e6e6e6" stroke-width="1.1"/>
 <path d="M318.2 68.5 Q311.5 70.5 309.5 76 Q308.3 81 308.3 87" stroke="#888" stroke-width="2.2"/>
 <path d="M318.2 68.5 Q311.5 70.5 309.5 76 Q308.3 81 308.3 87" stroke="#e6e6e6" stroke-width="1.1"/>
</g>
<g id="ground" fill="none" stroke="#555" stroke-width="0.6">
 <path d="M304.5 63.5 Q314 69 318.5 80 Q322 92 317 99 Q315 100.5 313.5 99.5"/>
 <path d="M306 86 Q309 82 314 81 Q318 80 320 79"/>
 <path d="M306.5 86 L306.5 96" stroke="#333" stroke-width="0.8"/>
</g>
<g id="connectors" stroke="#333" stroke-width="0.5">
 <path d="M295.2 61.2 L297 57.6 L303.6 60.9 L301.6 65.3 Z" fill="#666"/>
 <path d="M303.6 60.9 L304.9 61.6 L302.9 66 L301.6 65.3 Z" fill="#fff"/>
 <path d="M286.8 71.4 L288.6 67.8 L295.2 71.1 L293.2 75.5 Z" fill="#666"/>
 <path d="M295.2 71.1 L296.5 71.8 L294.5 76.2 L293.2 75.5 Z" fill="#fff"/>
 <path d="M326.6 66.2 L325.2 62.6 L318.6 65 L320.4 69.4 Z" fill="#666"/>
 <path d="M318.6 65 L317.3 65.6 L319 70 L320.4 69.4 Z" fill="#fff"/>
</g>
<g id="strap">
 <rect x="279" y="95.8" width="54.5" height="2.4" fill="#f2f2f2" stroke="#666" stroke-width="0.55"/>
 <path d="M281 97 H286 M288 97 H291 M321 97 H325 M327 97 H332" stroke="#555" stroke-width="1.1"/>
 <rect x="302.4" y="86.8" width="7.2" height="2.8" fill="#fff" stroke="#555" stroke-width="0.5"/>
 <path d="M304.5 86.8 V89.6 M307.5 86.8 V89.6" stroke="#777" stroke-width="0.4"/>
 <rect x="302" y="92" width="8" height="2" fill="#ddd" stroke="#555" stroke-width="0.5"/>
 <rect x="304.2" y="98.4" width="5.2" height="24" fill="#b5b5b5" stroke="#666" stroke-width="0.5"/>
 <path d="M304 100 H309.6 M304 102 H309.6 M304 104 H309.6 M304 106 H309.6 M304 108 H309.6 M304 110 H309.6 M304 112 H309.6 M304 114 H309.6 M304 116 H309.6 M304 118 H309.6 M304 120 H309.6" stroke="#777" stroke-width="0.45"/>
 <circle cx="312.8" cy="99.5" r="2" fill="#fff" stroke="#555" stroke-width="0.5"/>
 <circle cx="312.8" cy="99.8" r="1.2" fill="#333"/>
 <path d="M282 106.5 H285 V113.5 L283.5 115 L282 113.5 Z" fill="#999" stroke="#555" stroke-width="0.5"/>
 <path d="M328 106.5 H331 V113.5 L329.5 115 L328 113.5 Z" fill="#999" stroke="#555" stroke-width="0.5"/>
</g>
<g id="canopy" stroke="#555" stroke-width="0.7" fill="#fff">
 <path d="M279.2 125.7 C279.4 131 281 134.5 283.3 136.4 A22.7 3.9 0 0 0 328.7 136.4 C331 134.5 332.6 131 332.8 125.7 Z"/>
 <ellipse cx="306" cy="125.7" rx="26.8" ry="3.1"/>
 <path d="M280.5 126.6 Q306 121.2 331.5 126.6" fill="none" stroke="#888" stroke-width="0.5"/>
 <path d="M283.3 136.4 A22.7 3.9 0 0 1 328.7 136.4" fill="none" stroke="#666" stroke-width="0.65"/>
 <path d="M299.5 138 V141.2 H312.5 V138" fill="#fff"/>
 <ellipse cx="306" cy="138" rx="6.5" ry="1.6" fill="#ccc"/>
</g>
<g id="chain" stroke="#666" stroke-width="0.7" fill="none">
 <path d="M301.5 141.2 V151 Q301.5 153.7 304 153.7 H307.5 Q310 153.7 310 151 V141.2" stroke="#777"/>
 <rect x="303.2" y="142.3" width="5.2" height="3.2" fill="#ddd" stroke="#777" stroke-width="0.5"/>
 <path d="M304.5 145.5 V153 M307.1 145.5 V153" stroke="#999" stroke-width="0.5"/>
 <ellipse cx="305.8" cy="149.5" rx="2.3" ry="2" stroke="#777" stroke-width="0.5"/>
 <rect x="301.5" y="153.7" width="8.5" height="12.5" rx="2.5" stroke="#777"/>
 <path d="M303.4 155 V165" stroke="#aaa" stroke-width="0.8"/>
 <g stroke="#666" stroke-width="0.85">
 <ellipse cx="306.2" cy="186.7" rx="4.1" ry="8"/>
 <ellipse cx="306.2" cy="186.7" rx="1.8" ry="5.6" stroke="#ccc" stroke-width="0.6"/>
 <path d="M304.7 194.5 V207.5 M307.3 194.5 V207.5"/>
 <ellipse cx="306" cy="215.4" rx="4.1" ry="8"/>
 <ellipse cx="306" cy="215.4" rx="1.8" ry="5.6" stroke="#ccc" stroke-width="0.6"/>
 <path d="M304.5 223.3 V235.8 M307.1 223.3 V235.8"/>
 <ellipse cx="305.8" cy="243.3" rx="4.1" ry="7.8"/>
 <ellipse cx="305.8" cy="243.3" rx="1.8" ry="5.4" stroke="#ccc" stroke-width="0.6"/>
 <path d="M304.3 251 V265.8 M306.9 251 V265.8"/>
 </g>
 <rect x="301.3" y="265.8" width="8.7" height="11.7" rx="2"/>
 <path d="M303.5 266 V277.5" stroke="#aaa"/>
 <circle cx="306" cy="284.4" r="7.6"/>
 <circle cx="306" cy="284.4" r="4.6"/>
 <path d="M306 149 L307 166 L307.8 182 L307.3 200 L306.5 222 L305 245 L303.8 262 L304 276 L306.5 289" stroke="#1a1a1a" stroke-width="0.9"/>
</g>

<g id="labels">
<g transform="translate(359.70 52.70) scale(1 1.12)"><text x="0" y="0" font-size="7.39" text-anchor="start" style="stroke-width:0.12px">Outlet Box</text></g>
<g transform="translate(359.70 65.20) scale(1 1.12)"><text x="0" y="0" font-size="7.35" text-anchor="start" style="stroke-width:0.12px">Housing Ground Wire</text></g>
<g transform="translate(359.70 74.10) scale(1 1.12)"><text x="0" y="0" font-size="7.35" text-anchor="start" style="stroke-width:0.12px">Wire Connector (C)</text></g>
<g transform="translate(359.70 82.70) scale(1 1.12)"><text x="0" y="0" font-size="7.33" text-anchor="start" style="stroke-width:0.12px">Fixture Wire</text></g>
<g transform="translate(359.70 91.20) scale(1 1.12)"><text x="0" y="0" font-size="7.4" text-anchor="start" style="stroke-width:0.12px">Fixture Ground Wire</text></g>
<g transform="translate(359.70 99.60) scale(1 1.12)"><text x="0" y="0" font-size="7.4" text-anchor="start" style="stroke-width:0.12px">Mounting Strap Unit (A)</text></g>
<g transform="translate(359.70 108.50) scale(1 1.12)"><text x="0" y="0" font-size="7.41" text-anchor="start" style="stroke-width:0.12px">Green Ground Screw</text></g>
<g transform="translate(359.70 117.50) scale(1 1.12)"><text x="0" y="0" font-size="7.4" text-anchor="start" style="stroke-width:0.12px">Mounting Screw (B)</text></g>
<g transform="translate(359.70 126.70) scale(1 1.12)"><text x="0" y="0" font-size="7.37" text-anchor="start" style="stroke-width:0.12px">Threaded Pipe</text></g>
<g transform="translate(359.70 138.20) scale(1 1.12)"><text x="0" y="0" font-size="7.5" text-anchor="start" style="stroke-width:0.12px">Canopy (D)</text></g>
<g transform="translate(351.40 153.15) scale(1 1.12)"><text x="0" y="0" font-size="7.36" text-anchor="start" style="stroke-width:0.12px">Top Loop</text></g>
<g transform="translate(352.20 166.60) scale(1 1.12)"><text x="0" y="0" font-size="8.05" text-anchor="start" style="stroke-width:0.12px">Quick Link (E)</text></g>
<g transform="translate(353.00 221.27) scale(1 1.12)"><text x="0" y="0" font-size="8.25" text-anchor="start" style="stroke-width:0.12px">Chain (F)</text></g>
<g transform="translate(352.60 270.59) scale(1 1.12)"><text x="0" y="0" font-size="8.03" text-anchor="start" style="stroke-width:0.12px">Quick Link (E)</text></g>
<g transform="translate(426.70 311.56) scale(1 1.12)"><text x="0" y="0" font-size="7.95" text-anchor="start" style="stroke-width:0.12px">Fixture</text></g>
<g transform="translate(490.00 487.52) scale(1 1.12)"><text x="0" y="0" font-size="8.1" text-anchor="start" style="stroke-width:0.12px">Socket</text></g>
<g transform="translate(451.30 536.63) scale(1 1.12)"><text x="0" y="0" font-size="8.15" text-anchor="start" style="stroke-width:0.12px">Pure Shell (H)</text></g>
<g transform="translate(90.80 539.99) scale(1 1.12)"><text x="0" y="0" font-size="8.3" text-anchor="start" style="stroke-width:0.12px">Max.60W Type A Bulb</text></g>
<g transform="translate(103.70 549.95) scale(1 1.12)"><text x="0" y="0" font-size="8.2" text-anchor="start" style="stroke-width:0.12px">(not included)</text></g>
<g transform="translate(271.70 79.82) scale(1 1.12)"><text x="0" y="0" font-size="7.28" text-anchor="end" style="stroke-width:0.12px">Hex Nut</text></g>
<g transform="translate(271.70 89.23) scale(1 1.12)"><text x="0" y="0" font-size="7.45" text-anchor="end" style="stroke-width:0.12px">Washer</text></g>
<g transform="translate(278.80 142.13) scale(1 1.12)"><text x="0" y="0" font-size="7.3" text-anchor="end" style="stroke-width:0.12px">Collar (G)</text></g>
</g>
</svg>
</body></html>
